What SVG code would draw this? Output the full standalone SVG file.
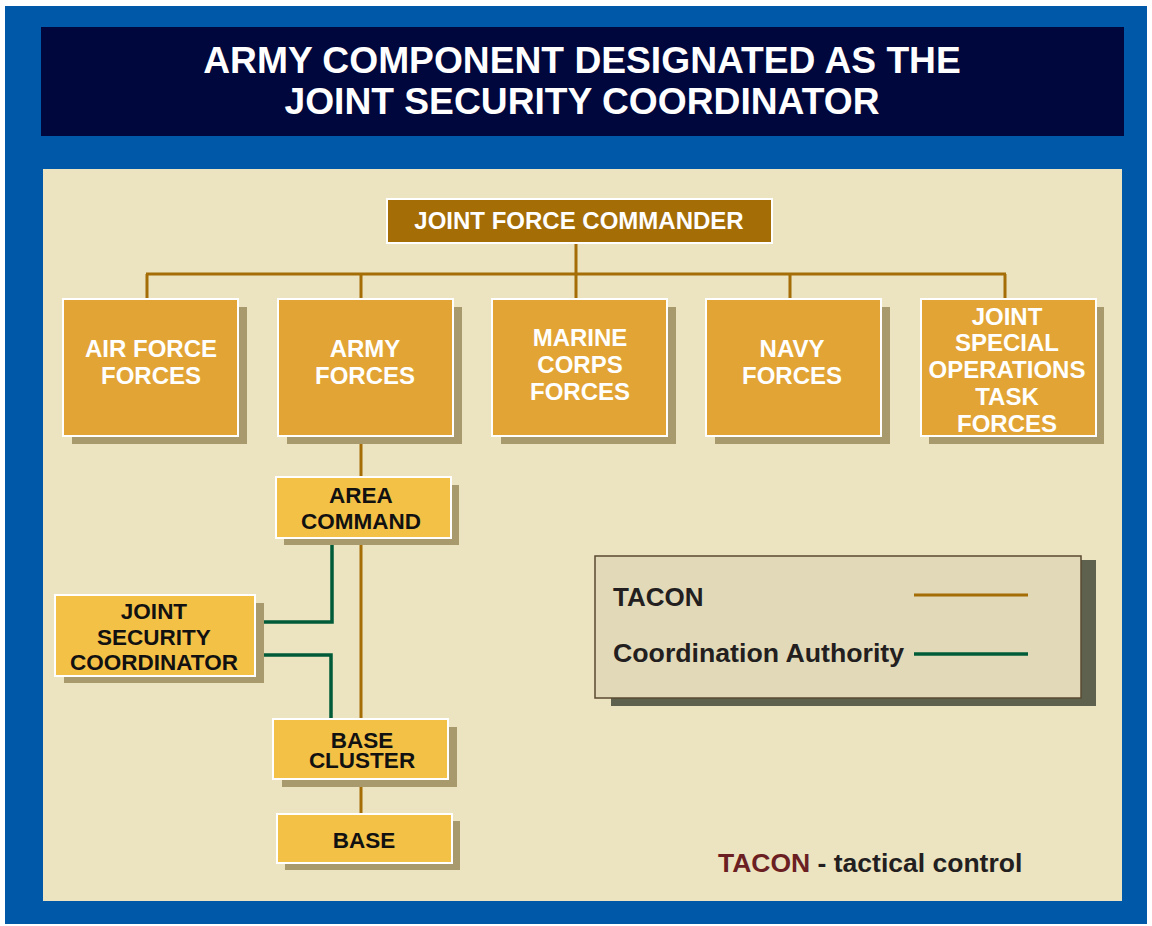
<svg xmlns="http://www.w3.org/2000/svg" width="1152" height="926" viewBox="0 0 1152 926">
<style>
.t{font-family:"Liberation Sans",Arial,sans-serif;font-weight:bold;text-anchor:middle}
.w{fill:#ffffff;font-size:24px}
.k{fill:#111111;font-size:22.5px}
.top{fill:#e2a535;stroke:#ffffff;stroke-width:2}
.low{fill:#f4c147;stroke:#ffffff;stroke-width:2}
.sh{fill:#a89a6c}
.br{stroke:#a46d06;stroke-width:3;fill:none}
.gr{stroke:#005c38;stroke-width:3.5;fill:none}
</style>
<rect x="0" y="0" width="1152" height="926" fill="#ffffff"/>
<rect x="5" y="6" width="1142" height="918" fill="#0058a8"/>
<rect x="41" y="27" width="1083" height="109" fill="#00073c"/>
<text class="t" x="582" y="73" fill="#ffffff" font-size="37.2">ARMY COMPONENT DESIGNATED AS THE</text>
<text class="t" x="582" y="114" fill="#ffffff" font-size="37.2">JOINT SECURITY COORDINATOR</text>
<rect x="43" y="169" width="1079" height="732" fill="#ece3c1"/>

<g id="connectors">
<path class="br" d="M576 243V274M146 274H1006M147 274V299M361 274V299M576 274V299M790 274V299M1005 274V299"/>
<path class="br" d="M361 436V477M361 538V719M361 779V814"/>
<path class="gr" d="M332 545V622H264M264 655H331V719"/>
</g>

<g id="jfc">
<rect x="387" y="199" width="385" height="44" fill="#a46d06" stroke="#ffffff" stroke-width="2"/>
<text class="t w" x="579" y="229">JOINT FORCE COMMANDER</text>
</g>

<g id="airforce">
<rect class="sh" x="72" y="307" width="175" height="137"/>
<rect class="top" x="63" y="299" width="175" height="137"/>
<text class="t w" x="151" y="357">AIR FORCE</text>
<text class="t w" x="151" y="384">FORCES</text>
</g>
<g id="army">
<rect class="sh" x="287" y="307" width="175" height="137"/>
<rect class="top" x="278" y="299" width="175" height="137"/>
<text class="t w" x="365" y="357">ARMY</text>
<text class="t w" x="365" y="384">FORCES</text>
</g>
<g id="marine">
<rect class="sh" x="501" y="307" width="175" height="137"/>
<rect class="top" x="492" y="299" width="175" height="137"/>
<text class="t w" x="580" y="346">MARINE</text>
<text class="t w" x="580" y="373">CORPS</text>
<text class="t w" x="580" y="400">FORCES</text>
</g>
<g id="navy">
<rect class="sh" x="715" y="307" width="175" height="137"/>
<rect class="top" x="706" y="299" width="175" height="137"/>
<text class="t w" x="792" y="357">NAVY</text>
<text class="t w" x="792" y="384">FORCES</text>
</g>
<g id="jsotf">
<rect class="sh" x="929" y="307" width="175" height="137"/>
<rect class="top" x="921" y="299" width="175" height="137"/>
<text class="t w" x="1007" y="325" font-size="23.5">JOINT</text>
<text class="t w" x="1007" y="351" font-size="23.5">SPECIAL</text>
<text class="t w" x="1007" y="378" font-size="23.5">OPERATIONS</text>
<text class="t w" x="1007" y="405" font-size="23.5">TASK</text>
<text class="t w" x="1007" y="432" font-size="23.5">FORCES</text>
</g>

<g id="areacommand">
<rect class="sh" x="284" y="485" width="175" height="60"/>
<rect class="low" x="276" y="477" width="175" height="61"/>
<text class="t k" x="361" y="503">AREA</text>
<text class="t k" x="361" y="529">COMMAND</text>
</g>
<g id="jsc">
<rect class="sh" x="64" y="603" width="200" height="80"/>
<rect class="low" x="55" y="595" width="200" height="81"/>
<text class="t k" x="154" y="619">JOINT</text>
<text class="t k" x="154" y="645">SECURITY</text>
<text class="t k" x="154" y="670">COORDINATOR</text>
</g>
<g id="basecluster">
<rect class="sh" x="282" y="727" width="175" height="60"/>
<rect class="low" x="273" y="719" width="175" height="60"/>
<text class="t k" x="362" y="748">BASE</text>
<text class="t k" x="362" y="768">CLUSTER</text>
</g>
<g id="base">
<rect class="sh" x="285" y="821" width="175" height="49"/>
<rect class="low" x="277" y="814" width="175" height="49"/>
<text class="t k" x="364" y="848">BASE</text>
</g>

<g id="legend">
<rect x="611" y="560" width="485" height="146" fill="#5f614f"/>
<rect x="595" y="556" width="486" height="142" fill="#e2d9b8" stroke="#5a4a30" stroke-width="1.5"/>
<text x="613" y="606" font-family="Liberation Sans,Arial,sans-serif" font-weight="bold" font-size="26" fill="#231f20">TACON</text>
<text x="613" y="662" font-family="Liberation Sans,Arial,sans-serif" font-weight="bold" font-size="26.7" fill="#231f20">Coordination Authority</text>
<line x1="914" y1="595" x2="1028" y2="595" stroke="#a46d06" stroke-width="3"/>
<line x1="914" y1="654" x2="1028" y2="654" stroke="#005c38" stroke-width="3.5"/>
</g>

<text x="718" y="872" font-family="Liberation Sans,Arial,sans-serif" font-weight="bold" font-size="26.5" fill="#231f20"><tspan fill="#6b1f22">TACON</tspan> - tactical control</text>
</svg>
